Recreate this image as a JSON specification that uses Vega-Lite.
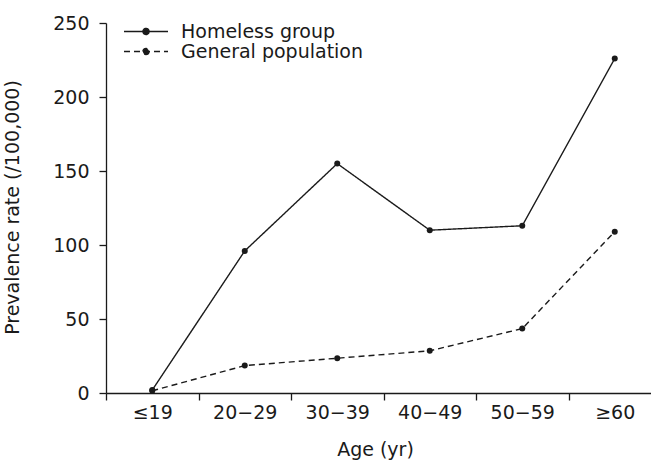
{
  "$schema": "https://vega.github.io/schema/vega-lite/v6.json",
  "autosize": "none",
  "width": 545,
  "height": 370,
  "padding": {"left": 106, "top": 23, "right": 0, "bottom": 71},
  "background": "white",
  "config": {
    "view": {"stroke": null},
    "font": "DejaVu Sans",
    "axis": {
      "domainColor": "#1a1a1a", "tickColor": "#1a1a1a", "labelColor": "#1a1a1a", "titleColor": "#1a1a1a",
      "labelFont": "DejaVu Sans", "titleFont": "DejaVu Sans", "labelFontSize": 19, "titleFontSize": 19,
      "titleFontWeight": "normal", "grid": false, "domainWidth": 1.3, "tickWidth": 1.3
    },
    "legend": {"labelFont": "DejaVu Sans", "labelFontSize": 19, "labelColor": "#1a1a1a", "labelLimit": 0}
  },
  "data": {
    "values": [
      {"age": "≤19", "group": "Homeless group", "rate": 2},
      {"age": "20−29", "group": "Homeless group", "rate": 96},
      {"age": "30−39", "group": "Homeless group", "rate": 155},
      {"age": "40−49", "group": "Homeless group", "rate": 110},
      {"age": "50−59", "group": "Homeless group", "rate": 113},
      {"age": "≥60", "group": "Homeless group", "rate": 226},
      {"age": "≤19", "group": "General population", "rate": 1.5},
      {"age": "20−29", "group": "General population", "rate": 18.5},
      {"age": "30−39", "group": "General population", "rate": 23.5},
      {"age": "40−49", "group": "General population", "rate": 28.5},
      {"age": "50−59", "group": "General population", "rate": 43.5},
      {"age": "≥60", "group": "General population", "rate": 109}
    ]
  },
  "encoding": {
    "x": {
      "field": "age", "type": "nominal", "sort": null,
      "scale": {"type": "band", "domain": ["≤19", "20−29", "30−39", "40−49", "50−59", "≥60"], "range": [0, 555], "paddingInner": 0, "paddingOuter": 0},
      "axis": {"title": "Age (yr)", "labelAngle": 0, "tickBand": "extent", "tickSize": 7, "labelPadding": 3,
               "titleX": 269, "titleY": 62, "titleBaseline": "alphabetic", "titleAnchor": null}
    },
    "y": {
      "field": "rate", "type": "quantitative",
      "scale": {"domain": [0, 250], "nice": false, "zero": true},
      "axis": {"title": "Prevalence rate (/100,000)", "values": [0, 50, 100, 150, 200, 250], "tickSize": 7, "labelPadding": 10,
               "titleX": -88, "titleY": 184, "titleBaseline": "alphabetic", "titleAngle": -90, "titleAlign": "center", "titleAnchor": null}
    }
  },
  "layer": [
    {
      "mark": {"type": "line", "color": "#1a1a1a", "strokeWidth": 1.4},
      "encoding": {
        "detail": {"field": "group"},
        "strokeDash": {
          "field": "group", "type": "nominal",
          "scale": {"domain": ["Homeless group", "General population"], "range": [[1, 0], [6, 4]]},
          "legend": {
            "title": null, "orient": "none", "legendX": 17, "legendY": 0, "padding": 0,
            "symbolType": "M-1,0H1M-0.14,0A0.14,0.14 0 1,1 0.14,0A0.14,0.14 0 1,1 -0.14,0Z",
            "symbolSize": 1936, "symbolStrokeColor": "#1a1a1a", "symbolFillColor": "#1a1a1a", "symbolStrokeWidth": 1.4,
            "labelOffset": 12, "rowPadding": 0, "clipHeight": 17
          }
        }
      }
    },
    {
      "mark": {"type": "point", "filled": true, "color": "#1a1a1a", "size": 36, "opacity": 1},
      "encoding": {"detail": {"field": "group"}}
    }
  ]
}
